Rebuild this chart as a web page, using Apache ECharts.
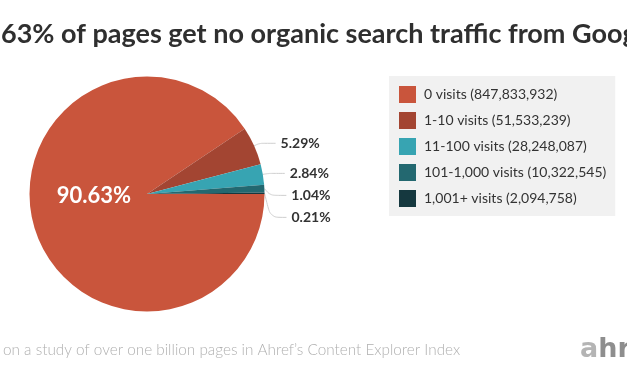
<!DOCTYPE html>
<html>
<head>
<meta charset="utf-8">
<script src="https://cdn.jsdelivr.net/npm/echarts@6/dist/echarts.min.js"></script>
<style>
html,body{margin:0;padding:0;background:#fff;}
#chart{width:627px;height:376px;}
</style>
</head>
<body>
<div id="chart"></div>
<script>
var categories = ['0 visits', '1-10 visits', '11-100 visits', '101-1,000 visits', '1,001+ visits'];
var pageCounts = [847833932, 51533239, 28248087, 10322545, 2094758];
var percents = [90.63, 5.29, 2.84, 1.04, 0.21];
var colors = ['#c9553c', '#a34532', '#37a4b2', '#236870', '#15383f'];
var titleText = '90.63% of pages get no organic search traffic from Google';
var footerText = 'Based on a study of over one billion pages in Ahref\u2019s Content Explorer Index';

function fmt(n) { return n.toString().replace(/\B(?=(\d{3})+(?!\d))/g, ','); }

var ctx = document.createElement('canvas').getContext('2d');
ctx.font = 'bold 27px Lato';
var titleShift = ctx.measureText('90.').width;
ctx.font = '300 15.3px Lato';
var footShift = ctx.measureText('Based ').width;

var countByName = {};
categories.forEach(function (c, i) { countByName[c] = pageCounts[i]; });

var data = categories.map(function (c, i) {
  var item = { name: c, value: percents[i], itemStyle: { color: colors[i] } };
  if (i === 0) {
    item.label = { position: 'inside', color: '#ffffff', fontSize: 22, fontWeight: 'bold', offset: [6, -16], lineHeight: 22 };
    item.labelLine = { show: false };
  }
  return item;
});

var chart = echarts.init(document.getElementById('chart'), null, { renderer: 'canvas' });
chart.setOption({
  animation: false,
  backgroundColor: '#ffffff',
  textStyle: { fontFamily: 'Lato' },
  title: {
    text: titleText,
    left: 1 - titleShift,
    top: 21,
    padding: 0,
    textStyle: { fontFamily: 'Lato', fontSize: 27, fontWeight: 'bold', color: '#2f2f2f' }
  },
  legend: {
    orient: 'vertical',
    left: 389,
    top: 76,
    padding: [10, 9, 9, 10],
    backgroundColor: '#f1f1f1',
    itemWidth: 17,
    itemHeight: 17,
    itemGap: 9,
    icon: 'rect',
    data: categories,
    selectedMode: false,
    formatter: function (name) { return name + ' (' + fmt(countByName[name]) + ')'; },
    textStyle: { fontFamily: 'Lato', fontSize: 14, color: '#333333', padding: [0, 0, 0, 3] }
  },
  graphic: [
    { type: 'text', left: 3 - footShift, top: 343, style: { text: footerText, font: '300 15.3px Lato', fill: '#b0b0b0' } },
    { type: 'text', left: 580, top: 336, style: {
        text: '{a|a}{b|hrefs}',
        rich: {
          a: { fontFamily: 'DejaVu Sans', fontWeight: 'bold', fontSize: 27, fill: '#b4b4b4' },
          b: { fontFamily: 'DejaVu Sans', fontWeight: 'bold', fontSize: 27, fill: '#8e8e8e' }
        }
    } }
  ],
  series: [{
    type: 'pie',
    center: [147, 194],
    radius: [0, 117.5],
    startAngle: 0,
    clockwise: true,
    avoidLabelOverlap: true,
    data: data,
    label: {
      show: true,
      position: 'outside',
      alignTo: 'labelLine',
      formatter: function (p) { return p.value.toFixed(2) + '%'; },
      fontFamily: 'Lato',
      fontSize: 14,
      fontWeight: 'bold',
      color: '#333333',
      lineHeight: 20,
      distanceToLabelLine: 5
    },
    labelLine: {
      show: true,
      length: 6,
      length2: 16,
      smooth: 0.3,
      lineStyle: { color: '#cfcfcf', width: 1 }
    },
    emphasis: { disabled: true }
  }]
});
</script>
</body>
</html>
